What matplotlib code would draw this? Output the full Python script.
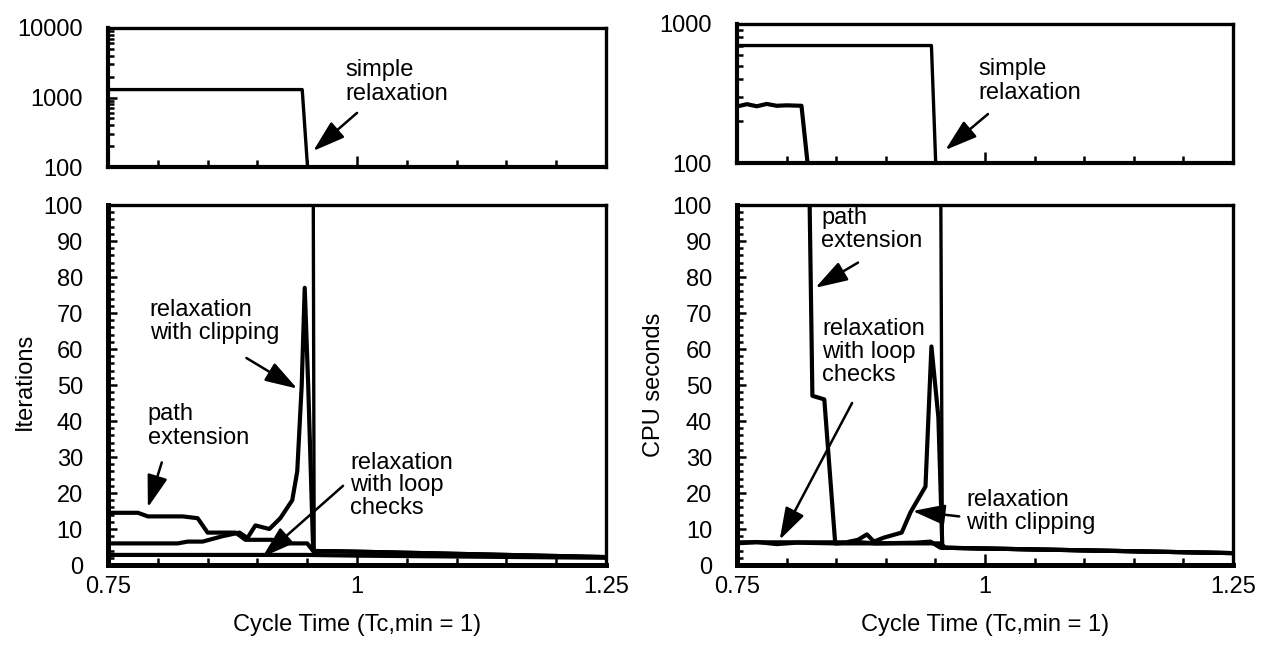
import matplotlib

matplotlib.use("Agg")
import matplotlib.pyplot as plt
from matplotlib.ticker import FixedLocator, LogLocator, MultipleLocator, NullFormatter

plt.rcParams["font.family"] = ["Liberation Sans", "DejaVu Sans"]
plt.rcParams["font.size"] = 17

# ---- data (cycle time, Tc,min = 1) ----
# Iterations
it_simple_x = [0.75, 0.945, 0.957, 1.0, 1.1, 1.2, 1.25]
it_simple_y = [1300, 1300, 4.0, 3.7, 3.1, 2.5, 2.2]

it_path_x = [0.75, 0.78, 0.79, 0.825, 0.84, 0.85, 0.878, 0.888, 0.915, 0.922, 0.95, 0.956, 1.0, 1.25]
it_path_y = [14.5, 14.5, 13.5, 13.5, 13.0, 9.0, 9.0, 7.0, 7.0, 6.0, 6.0, 3.9, 3.7, 2.2]

it_clip_x = [0.75, 0.82, 0.83, 0.845, 0.865, 0.882, 0.89, 0.898, 0.912, 0.923, 0.935, 0.94,
             0.9445, 0.9475, 0.951, 0.956, 1.0, 1.25]
it_clip_y = [6.0, 6.0, 6.5, 6.5, 8.0, 9.0, 7.5, 11.0, 10.0, 13.0, 18.0, 26.0,
             50.0, 77.0, 50.0, 3.9, 3.7, 2.2]

it_loop_x = [0.75, 0.95, 1.0, 1.25]
it_loop_y = [2.8, 2.8, 2.6, 2.0]

# CPU seconds
cpu_simple_x = [0.75, 0.946, 0.957, 1.0, 1.1, 1.2, 1.25]
cpu_simple_y = [700, 700, 4.8, 4.5, 4.0, 3.5, 3.3]

cpu_path_x = [0.75, 0.76, 0.77, 0.78, 0.79, 0.80, 0.815, 0.826, 0.838, 0.849, 0.955, 0.96, 1.25]
cpu_path_y = [255, 265, 256, 266, 258, 260, 258, 47.0, 46.0, 6.0, 6.0, 4.8, 3.3]

cpu_clip_x = [0.75, 0.86, 0.872, 0.881, 0.888, 0.898, 0.916, 0.925, 0.94, 0.946, 0.953, 0.957, 1.25]
cpu_clip_y = [6.3, 6.3, 7.0, 8.5, 6.5, 7.6, 9.0, 14.7, 21.8, 60.7, 41.0, 4.8, 3.3]

cpu_loop_x = [0.75, 0.77, 0.79, 0.81, 0.85, 0.87, 0.89, 0.93, 0.945, 0.955, 1.25]
cpu_loop_y = [6.0, 6.4, 5.8, 6.2, 6.0, 6.4, 6.0, 6.2, 6.5, 4.8, 3.3]

x_major = [0.75, 1.0, 1.25]
x_labels = ["0.75", "1", "1.25"]
lin_ticks = list(range(0, 101, 10))

fig = plt.figure(figsize=(12.79, 6.5), dpi=100, facecolor="white")

W, H = 1279.0, 650.0


def px_axes(x0, x1, y0, y1):
    return fig.add_axes([x0 / W, 1 - y1 / H, (x1 - x0) / W, (y1 - y0) / H])


def frame(ax, lw_lb=3.6, lw_tr=2.4):
    ax.spines["left"].set_linewidth(lw_lb)
    ax.spines["bottom"].set_linewidth(lw_lb)
    ax.spines["top"].set_linewidth(lw_tr)
    ax.spines["right"].set_linewidth(lw_tr)
    ax.set_xlim(0.75, 1.25)
    ax.xaxis.set_major_locator(FixedLocator(x_major))
    ax.xaxis.set_minor_locator(MultipleLocator(0.05))
    ax.tick_params(axis="both", which="both", direction="in", top=False, right=False, width=1.8)
    ax.tick_params(axis="x", which="major", length=8, pad=8)
    ax.tick_params(axis="x", which="minor", length=5)
    ax.tick_params(axis="y", which="major", length=6.5, pad=18)
    ax.tick_params(axis="y", which="minor", length=4)


def arrow(ax, tail, tip):
    ax.annotate("", xy=tip, xytext=tail,
                arrowprops=dict(arrowstyle="-|>,head_length=1.1,head_width=0.35",
                                mutation_scale=18, lw=1.8, color="black",
                                shrinkA=0, shrinkB=0))


LW = 3.0

# ---------------- left: iterations ----------------
ax_lt = px_axes(108, 606, 28, 167)
ax_lb = px_axes(108, 606, 205, 565)

for ax in (ax_lt, ax_lb):
    ax.plot(it_simple_x, it_simple_y, color="black", lw=2.4)
    ax.plot(it_path_x, it_path_y, color="black", lw=LW)
    ax.plot(it_clip_x, it_clip_y, color="black", lw=LW)
    ax.plot(it_loop_x, it_loop_y, color="black", lw=LW)

frame(ax_lt, lw_lb=3.0)
ax_lt.set_yscale("log")
ax_lt.set_ylim(100, 10000)
ax_lt.set_yticks([100, 1000, 10000])
ax_lt.set_yticklabels(["100", "1000", "10000"])
ax_lt.yaxis.set_minor_locator(LogLocator(base=10, subs=range(2, 10)))
ax_lt.yaxis.set_minor_formatter(NullFormatter())
ax_lt.set_xticklabels([])

frame(ax_lb)
ax_lb.set_ylim(0, 100)
ax_lb.set_yticks(lin_ticks)
ax_lb.yaxis.set_minor_locator(MultipleLocator(2))
ax_lb.set_xticklabels(x_labels)
ax_lb.set_ylabel("Iterations")
ax_lb.yaxis.set_label_coords(-0.145, 0.51)
ax_lb.set_xlabel("Cycle Time (Tc,min = 1)")
ax_lb.xaxis.set_label_coords(0.5, -0.135)

ax_lt.text(0.988, 3600, "simple\nrelaxation", ha="left", va="top", linespacing=1.1)
arrow(ax_lt, (1.0, 600), (0.956, 170))

ax_lb.text(0.792, 74, "relaxation\nwith clipping", ha="left", va="top", linespacing=1.1)
arrow(ax_lb, (0.889, 57.5), (0.940, 49))
ax_lb.text(0.790, 45, "path\nextension", ha="left", va="top", linespacing=1.1)
arrow(ax_lb, (0.804, 28.5), (0.790, 16))
ax_lb.text(0.993, 31.5, "relaxation\nwith loop\nchecks", ha="left", va="top", linespacing=1.05)
arrow(ax_lb, (0.986, 22), (0.905, 2.2))

# ---------------- right: CPU seconds ----------------
ax_rt = px_axes(737, 1233, 24, 163)
ax_rb = px_axes(737, 1233, 205, 565)

for ax in (ax_rt, ax_rb):
    ax.plot(cpu_simple_x, cpu_simple_y, color="black", lw=2.4)
    ax.plot(cpu_path_x, cpu_path_y, color="black", lw=LW)
    ax.plot(cpu_clip_x, cpu_clip_y, color="black", lw=LW)
    ax.plot(cpu_loop_x, cpu_loop_y, color="black", lw=LW)

frame(ax_rt, lw_lb=3.0)
ax_rt.set_yscale("log")
ax_rt.set_ylim(100, 1000)
ax_rt.set_yticks([100, 1000])
ax_rt.set_yticklabels(["100", "1000"])
ax_rt.yaxis.set_minor_locator(LogLocator(base=10, subs=range(2, 10)))
ax_rt.yaxis.set_minor_formatter(NullFormatter())
ax_rt.set_xticklabels([])

frame(ax_rb)
ax_rb.set_ylim(0, 100)
ax_rb.set_yticks(lin_ticks)
ax_rb.yaxis.set_minor_locator(MultipleLocator(2))
ax_rb.set_xticklabels(x_labels)
ax_rb.set_ylabel("CPU seconds")
ax_rb.yaxis.set_label_coords(-0.145, 0.5)
ax_rb.set_xlabel("Cycle Time (Tc,min = 1)")
ax_rb.xaxis.set_label_coords(0.5, -0.135)

ax_rt.text(0.993, 570, "simple\nrelaxation", ha="left", va="top", linespacing=1.1)
arrow(ax_rt, (1.003, 225), (0.960, 124))

ax_rb.text(0.835, 99.5, "path\nextension", ha="left", va="top", linespacing=1.05)
arrow(ax_rb, (0.872, 84), (0.829, 77))
ax_rb.text(0.836, 68.5, "relaxation\nwith loop\nchecks", ha="left", va="top", linespacing=1.05)
arrow(ax_rb, (0.866, 45), (0.793, 7))
ax_rb.text(0.981, 21, "relaxation\nwith clipping", ha="left", va="top", linespacing=1.05)
arrow(ax_rb, (0.974, 13.5), (0.927, 15))

fig.savefig("out.png", dpi=100, facecolor="white")
